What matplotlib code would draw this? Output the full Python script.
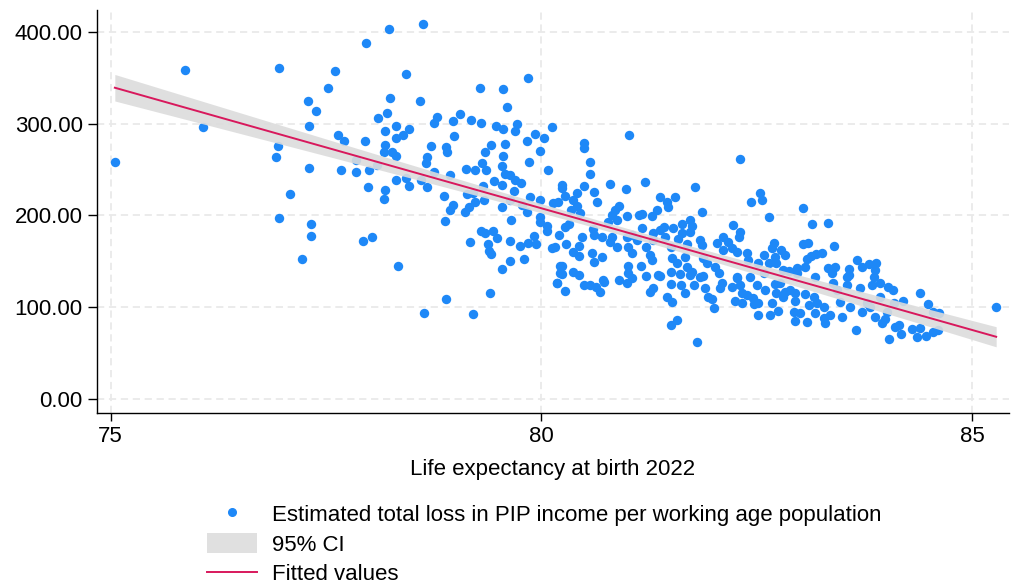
import numpy as np
import matplotlib.pyplot as plt
from matplotlib.patches import Patch
from matplotlib.lines import Line2D

plt.rcParams['font.family'] = ['Liberation Sans', 'DejaVu Sans']

# life expectancy at birth 2022 (x) and estimated PIP loss per working age pop (y)
life_expectancy = [
    75.05, 75.86, 76.07, 76.95, 77.29, 77.39, 77.30, 76.94, 76.92, 77.30, 77.08, 77.53,
    76.96, 77.33, 77.33, 77.22,
    78.23, 78.63, 77.97, 77.61, 78.43, 78.24, 78.59, 78.11, 78.21, 78.31, 78.19, 78.47,
    78.40, 78.31, 77.64, 77.71, 77.95, 78.19, 78.17, 78.27, 78.31, 77.85, 78.09, 77.67,
    77.85, 78.00, 78.31, 78.43, 78.46, 77.99, 78.19, 78.17,
    78.79, 78.76, 78.98, 79.06, 79.18, 79.30, 78.99, 78.72, 78.89, 78.91, 78.67, 78.66,
    78.60, 78.67, 78.75, 78.94, 79.13, 79.23, 78.87,
    79.29, 79.56, 79.60, 79.85, 79.47, 79.56, 79.72, 79.70, 79.58, 79.42, 79.35, 79.55,
    79.31, 79.54, 79.36, 79.83, 79.93, 80.03, 80.12, 79.99, 79.86, 80.08, 79.58, 79.64,
    79.70, 79.76, 79.45, 79.54, 79.32, 79.68, 79.14, 79.21, 79.34, 79.87, 79.99, 80.14,
    79.64, 79.78, 79.54, 78.98, 79.16, 79.23,
    77.93, 78.04, 78.34, 78.88, 78.94, 79.12, 79.65, 79.83, 79.30, 79.35, 79.44, 79.49,
    79.17, 79.38, 79.39, 79.42, 79.64, 79.75, 79.85, 79.91, 79.94, 79.98, 79.99, 80.07,
    80.07, 80.12, 80.21, 79.80, 79.64, 79.54, 79.41, 78.89, 78.64, 79.21, 80.18, 80.22,
    80.22,
    81.02, 80.50, 80.50, 80.57, 80.56, 80.24, 80.24, 80.27, 80.41, 80.50, 80.61, 80.65,
    80.37, 80.19, 80.41, 80.34, 80.45, 80.80, 80.98, 81.20, 81.79, 82.31, 82.54, 82.44,
    82.56, 82.64, 81.87, 81.55, 81.38, 81.46, 81.47, 81.34, 81.28, 81.17, 81.13, 81.00,
    80.90, 80.86, 80.82, 80.88, 80.77, 80.60, 80.61, 80.70, 80.82, 80.88, 80.80, 80.28,
    80.32, 80.16, 80.29, 80.44, 80.47, 80.37, 80.44, 80.59, 80.70, 80.61, 80.24, 80.24,
    80.37, 80.44, 80.72, 81.01, 81.01, 81.16, 81.21, 81.01, 81.05, 80.99, 81.05, 81.17,
    81.11, 81.22, 81.30, 81.30, 81.38, 81.44, 81.42, 81.53, 81.63, 81.73, 81.75, 81.63,
    81.73, 81.59, 81.69, 81.50, 81.26, 81.28, 81.52, 81.57, 81.67, 81.69, 81.61, 81.50,
    81.38, 81.75, 81.84, 81.86, 81.88, 81.92, 82.04, 82.02, 82.06, 82.11, 82.17, 82.23,
    82.31, 82.29, 82.21, 82.27, 82.11, 82.39, 82.40, 82.58, 82.68, 82.70, 82.71, 82.73,
    82.64, 82.52, 82.81, 82.58, 82.27, 81.84, 80.90,
    80.18, 80.27, 80.50, 80.57, 80.63, 80.68, 80.73, 80.99, 81.05, 81.26, 81.30, 81.36,
    81.50, 81.46, 81.52, 81.50, 81.57, 81.81, 81.62, 81.67, 81.73, 81.77, 81.88, 81.90,
    81.94, 81.98, 82.00, 82.08, 82.10, 82.21, 82.27, 82.31, 82.33, 82.25, 82.33, 82.39,
    82.46, 82.47, 82.50, 82.52, 82.51, 82.60, 82.65, 82.68, 82.75, 82.73, 82.81, 82.77,
    82.71, 82.89, 82.42,
    83.04, 83.14, 83.33, 83.04, 83.10, 83.40, 83.26, 83.19, 83.13, 83.08, 82.83, 82.78,
    83.66, 83.72, 83.80, 83.89, 83.87, 83.57, 83.33, 83.41, 83.06, 82.97, 82.87, 83.37,
    83.18, 83.55, 83.86,
    82.97, 83.57, 82.83, 82.95, 82.94, 82.93, 82.95, 83.06, 83.16, 83.11, 83.20, 83.18,
    83.09, 83.28, 83.29, 83.35, 83.39, 83.43, 83.47, 83.49, 83.55, 83.58, 83.65, 83.70,
    83.72, 83.78, 83.84, 83.82, 83.87, 83.93, 83.93, 83.95, 83.99, 84.01, 84.03, 84.08,
    84.09, 84.11, 84.15, 84.04, 84.17, 84.20, 84.30, 84.36, 84.40, 84.40, 84.47, 84.49,
    84.55, 84.62, 84.55, 84.61, 85.28, 83.00, 83.28,
]
pip_loss = [
    258.5, 358.4, 296.0, 361.0, 325.0, 314.0, 298.0, 276.0, 264.0, 252.0, 223.0, 339.0,
    197.5, 191.0, 177.5, 153.0,
    403.0, 408.8, 388.5, 357.6, 354.0, 327.8, 325.3, 306.0, 312.2, 297.3, 292.3, 294.0,
    287.2, 284.3, 287.2, 281.0, 281.0, 276.6, 269.4, 269.4, 265.0, 260.3, 254.9, 249.4,
    246.9, 249.4, 239.2, 240.3, 232.0, 231.3, 228.3, 217.8,
    307.5, 301.3, 303.2, 310.8, 303.9, 300.6, 286.8, 275.2, 274.8, 269.4, 264.0, 256.7,
    238.5, 231.3, 246.9, 244.0, 250.9, 250.1, 221.1,
    338.7, 337.3, 317.7, 350.0, 297.0, 294.0, 299.5, 292.3, 278.1, 276.3, 269.0, 265.0,
    256.7, 254.1, 250.1, 281.0, 289.0, 284.3, 296.6, 270.8, 257.8, 249.4, 244.7, 244.0,
    238.5, 234.9, 238.1, 232.7, 232.0, 226.5, 223.3, 224.0, 216.7, 220.0, 216.7, 213.8,
    216.7, 211.3, 209.5, 211.3, 209.5, 214.9,
    172.1, 176.9, 145.3, 193.6, 205.9, 203.4, 194.7, 204.1, 183.4, 180.5, 182.7, 175.8,
    170.7, 168.9, 161.6, 158.3, 171.8, 167.1, 169.6, 178.0, 168.5, 197.9, 193.2, 188.5,
    183.4, 164.9, 178.7, 152.9, 150.7, 141.6, 115.1, 108.6, 94.1, 92.6, 126.4, 136.9,
    145.3,
    287.2, 278.5, 273.1, 258.2, 244.7, 233.1, 229.5, 221.5, 224.8, 232.0, 225.5, 214.6,
    216.8, 215.0, 210.2, 205.9, 202.2, 233.8, 228.7, 236.0, 231.3, 261.8, 224.8, 214.6,
    216.8, 197.9, 204.1, 220.4, 220.4, 215.0, 209.5, 205.9, 199.3, 201.2, 200.1, 199.3,
    210.2, 205.9, 200.4, 195.0, 193.2, 184.8, 178.6, 176.8, 176.8, 166.0, 171.4, 187.7,
    190.6, 166.0, 168.9, 166.7, 176.1, 160.5, 156.1, 158.7, 154.3, 148.9, 145.2, 136.2,
    138.7, 135.1, 129.6, 145.2, 136.9, 144.9, 134.3, 166.0, 158.7, 176.8, 178.6, 185.9,
    173.2, 166.0, 180.5, 173.2, 184.1, 176.8, 187.7, 185.9, 190.6, 195.0, 188.5, 180.5,
    182.3, 173.9, 168.9, 165.2, 156.9, 151.4, 153.3, 147.8, 155.0, 144.1, 136.2, 138.7,
    134.3, 138.7, 173.2, 167.7, 153.2, 147.8, 169.6, 144.1, 136.9, 176.8, 171.4, 189.5,
    182.3, 176.8, 164.1, 160.5, 162.3, 158.7, 151.4, 156.9, 164.1, 169.6, 155.1, 147.8,
    147.8, 147.8, 140.5, 136.9, 133.3, 133.3, 129.6,
    126.0, 117.6, 124.2, 124.2, 122.3, 116.9, 127.1, 126.0, 131.4, 116.9, 120.5, 135.0,
    124.9, 111.5, 105.3, 80.2, 86.0, 62.1, 124.2, 115.8, 135.0, 124.2, 134.0, 120.5,
    111.5, 108.5, 98.7, 120.5, 126.7, 122.3, 131.4, 124.2, 115.1, 107.1, 104.2, 113.3,
    109.6, 103.1, 124.2, 104.9, 91.5, 118.7, 91.5, 104.2, 95.8, 115.1, 111.5, 126.0,
    125.3, 118.7, 133.2,
    207.7, 190.3, 192.1, 168.5, 169.6, 166.7, 159.4, 158.0, 156.1, 152.5, 156.9, 162.3,
    151.4, 144.1, 147.1, 148.5, 140.5, 141.6, 142.3, 144.1, 144.1, 142.3, 139.8, 136.9,
    133.3, 133.3, 133.3,
    136.9, 135.0, 116.9, 115.1, 107.1, 95.1, 85.3, 114.4, 111.5, 102.4, 104.2, 93.3,
    84.2, 100.6, 82.4, 91.5, 126.0, 118.7, 106.0, 89.7, 124.2, 100.6, 75.1, 120.5,
    95.1, 104.2, 124.2, 100.6, 89.7, 111.5, 126.0, 82.4, 86.8, 95.1, 122.3, 118.7,
    104.2, 78.8, 80.6, 65.3, 70.8, 107.1, 75.9, 67.2, 115.8, 76.9, 69.0, 103.1,
    95.1, 94.0, 73.3, 75.1, 99.8, 93.3, 87.8,
]
y_ticks = [0, 100, 200, 300, 400]
x_ticks = [75, 80, 85]

x = np.array(life_expectancy)
y = np.array(pip_loss)

# linear fit + 95% CI of the mean prediction
slope, intercept = np.polyfit(x, y, 1)
xs = np.linspace(x.min(), x.max(), 200)
fit = intercept + slope * xs
n = len(x)
resid = y - (intercept + slope * x)
s = np.sqrt(np.sum(resid ** 2) / (n - 2))
se = s * np.sqrt(1 / n + (xs - x.mean()) ** 2 / np.sum((x - x.mean()) ** 2))
lo, hi = fit - 1.966 * se, fit + 1.966 * se

blue = '#1e88f7'
red = '#d8185c'
band = '#dcdcdc'

fig = plt.figure(figsize=(10.21, 5.85), dpi=100)
ax = fig.add_axes([0.095, 0.294, 0.893, 0.689])

ax.scatter(x, y, s=46, color=blue, linewidths=0, zorder=2)
ax.fill_between(xs, lo, hi, color=band, alpha=0.9, linewidth=0, zorder=3)
ax.plot(xs, fit, color=red, linewidth=1.4, zorder=4)

ax.set_xlim(74.843, 85.426)
ax.set_ylim(-15.3, 424)
ax.set_xticks(x_ticks)
ax.set_yticks(y_ticks)
ax.set_yticklabels([f'{v:.2f}' for v in y_ticks])
ax.tick_params(axis='x', direction='out', length=5.8, width=1, labelsize=16, pad=3.5)
ax.tick_params(axis='y', direction='out', length=6.2, width=1, labelsize=16, pad=4)
ax.grid(True, color='#e9e9e9', linestyle=(0, (4, 2.6)), linewidth=1.3, zorder=0)
ax.set_axisbelow(True)
for side in ['top', 'right']:
    ax.spines[side].set_visible(False)
for side in ['left', 'bottom']:
    ax.spines[side].set_linewidth(1)
ax.set_xlabel('Life expectancy at birth 2022', fontsize=16, labelpad=8.5)

handles = [
    Line2D([], [], marker='o', linestyle='none', markersize=5.5, color=blue),
    Patch(facecolor='#e0e0e0', edgecolor='none'),
    Line2D([], [], color=red, linewidth=1.4),
]
labels = ['Estimated total loss in PIP income per working age population', '95% CI', 'Fitted values']
fig.legend(handles, labels, loc='upper left', bbox_to_anchor=(0.192, 0.159), frameon=False,
           borderpad=0, handlelength=2.25, handleheight=1.0, handletextpad=0.68,
           labelspacing=0.33, fontsize=16)

plt.savefig('out.png', dpi=100)
